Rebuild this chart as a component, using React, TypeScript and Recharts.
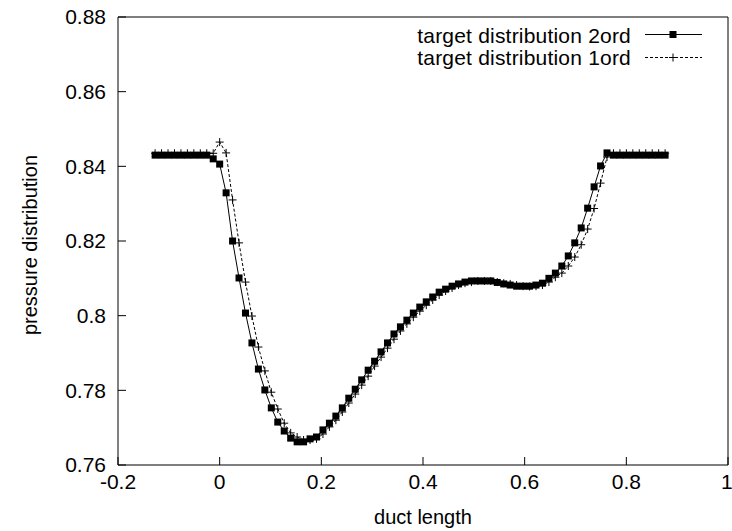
import { LineChart, Line, XAxis, YAxis, Legend } from 'recharts';

// duct positions (shared by both series)
const ductX = [
  -0.127, -0.1143, -0.1016, -0.0889, -0.0762, -0.0635, -0.0508, -0.0381, -0.0254, -0.0127,
  0, 0.0127, 0.0254, 0.0381, 0.0508, 0.0635, 0.0762, 0.0889, 0.1016, 0.1143,
  0.127, 0.1397, 0.1524, 0.1651, 0.1778, 0.1905, 0.2032, 0.2159, 0.2286, 0.2413,
  0.254, 0.2667, 0.2794, 0.2921, 0.3048, 0.3175, 0.3302, 0.3429, 0.3556, 0.3683,
  0.381, 0.3937, 0.4064, 0.4191, 0.4318, 0.4445, 0.4572, 0.4699, 0.4826, 0.4953,
  0.508, 0.5207, 0.5334, 0.5461, 0.5588, 0.5715, 0.5842, 0.5969, 0.6096, 0.6223,
  0.635, 0.6477, 0.6604, 0.6731, 0.6858, 0.6985, 0.7112, 0.7239, 0.7366, 0.7493,
  0.762, 0.7747, 0.7874, 0.8001, 0.8128, 0.8255, 0.8382, 0.8509, 0.8636, 0.8763,
];

const target2ord = [
  0.843, 0.843, 0.843, 0.843, 0.843, 0.843, 0.843, 0.843, 0.843, 0.842,
  0.8406, 0.8329, 0.82, 0.8101, 0.8007, 0.7927, 0.7857, 0.7801, 0.7753, 0.7715,
  0.7691, 0.7672, 0.7662, 0.7662, 0.767, 0.7675, 0.7694, 0.7712, 0.7731, 0.7753,
  0.7779, 0.7803, 0.7828, 0.7854, 0.7878, 0.7903, 0.7927, 0.7951, 0.797, 0.7988,
  0.8007, 0.8023, 0.8037, 0.805, 0.8063, 0.8071, 0.8079, 0.8085, 0.809, 0.8093,
  0.8093, 0.8093, 0.8093, 0.8089, 0.8085, 0.8082, 0.8079, 0.8079, 0.8079, 0.8082,
  0.8087, 0.81, 0.8114, 0.8133, 0.816, 0.8195, 0.8235, 0.8288, 0.8345, 0.8401,
  0.8436, 0.843, 0.843, 0.843, 0.843, 0.843, 0.843, 0.843, 0.843, 0.843,
];

const target1ord = [
  0.8435, 0.8435, 0.8435, 0.8435, 0.8435, 0.8435, 0.8435, 0.8435, 0.8435, 0.8435,
  0.8465, 0.8436, 0.831, 0.8195, 0.809, 0.7999, 0.7916, 0.7852, 0.7795, 0.775,
  0.7712, 0.7686, 0.7675, 0.7667, 0.7667, 0.767, 0.7683, 0.7702, 0.772, 0.7742,
  0.7766, 0.779, 0.7814, 0.7838, 0.7865, 0.7889, 0.7913, 0.7937, 0.7959, 0.7978,
  0.7996, 0.8012, 0.8028, 0.8042, 0.8055, 0.8066, 0.8074, 0.8082, 0.8087, 0.809,
  0.8093, 0.8093, 0.8093, 0.809, 0.8087, 0.8085, 0.8082, 0.8079, 0.8078, 0.8079,
  0.8082, 0.809, 0.8103, 0.8114, 0.8133, 0.8157, 0.819, 0.8232, 0.8287, 0.8355,
  0.8425, 0.8435, 0.8435, 0.8435, 0.8435, 0.8435, 0.8435, 0.8435, 0.8435, 0.8435,
];

const xTicks = [-0.2, 0, 0.2, 0.4, 0.6, 0.8, 1];
const yTicks = [0.76, 0.78, 0.8, 0.82, 0.84, 0.86, 0.88];

const data = ductX.map((x, i) => ({ x, o2: target2ord[i], o1: target1ord[i] }));

const FONT = '"Liberation Sans", Arial, Helvetica, sans-serif';

const SquareDot = (props: any) => {
  const { cx, cy, index } = props;
  return <rect key={`sq-${index}`} x={cx - 3.5} y={cy - 3.5} width={7} height={7} fill="#000" />;
};

const PlusDot = (props: any) => {
  const { cx, cy, index } = props;
  return (
    <path
      key={`pl-${index}`}
      d={`M${cx - 4},${cy}H${cx + 4}M${cx},${cy - 4}V${cy + 4}`}
      stroke="#000"
      strokeWidth={1}
      fill="none"
    />
  );
};

// gnuplot style key, top right inside the frame
const renderKey = () => (
  <svg width={732} height={80} style={{ position: 'absolute', left: 0, top: 0, overflow: 'visible' }}>
    <text x={631} y={43} textAnchor="end" fontSize={21} letterSpacing={0.2} fill="#000" fontFamily={FONT}>
      target distribution 2ord
    </text>
    <line x1={645} x2={702} y1={34.5} y2={34.5} stroke="#000" strokeWidth={1} />
    <rect x={669.5} y={31} width={7} height={7} fill="#000" />
    <text x={631} y={65} textAnchor="end" fontSize={21} letterSpacing={0.2} fill="#000" fontFamily={FONT}>
      target distribution 1ord
    </text>
    <line x1={645} x2={702} y1={57.5} y2={57.5} stroke="#000" strokeWidth={1} strokeDasharray="3 2" />
    <path d="M669,57.5H677M673,53.5V61.5" stroke="#000" strokeWidth={1} />
  </svg>
);

const YTitle = (props: any) => {
  const vb = props.viewBox || { x: 0, y: 17, height: 448 };
  const x = vb.x + 30;
  const y = vb.y + vb.height / 2 + 4;
  return (
    <text
      x={x}
      y={y}
      transform={`rotate(-90 ${x} ${y})`}
      textAnchor="middle"
      dominantBaseline="central"
      fontSize={20}
      fill="#000"
      fontFamily={FONT}
    >
      pressure distribution
    </text>
  );
};

export default function App() {
  return (
    <div style={{ position: 'absolute', left: 0, top: 0, fontFamily: FONT, background: '#fff' }}>
      <LineChart width={732} height={531} data={data} margin={{ top: 7, right: 0, bottom: 0, left: 0 }}>
        <XAxis
          dataKey="x"
          type="number"
          domain={[-0.2, 1]}
          ticks={xTicks}
          allowDataOverflow
          height={66}
          tickSize={-8}
          tickMargin={17}
          axisLine={{ stroke: '#000' }}
          tickLine={{ stroke: '#000' }}
          tick={{ fill: '#000', fontSize: 21, fontFamily: FONT }}
          label={{ value: 'duct length', position: 'insideBottom', offset: 7, fill: '#000', fontSize: 20 }}
        />
        <XAxis
          xAxisId="top"
          orientation="top"
          type="number"
          domain={[-0.2, 1]}
          ticks={xTicks}
          allowDataOverflow
          height={10}
          tickSize={-8}
          axisLine={{ stroke: '#000' }}
          tickLine={{ stroke: '#000' }}
          tick={false}
        />
        <YAxis
          type="number"
          domain={[0.76, 0.88]}
          ticks={yTicks}
          allowDataOverflow
          width={118}
          tickSize={-8}
          tickMargin={20}
          axisLine={{ stroke: '#000' }}
          tickLine={{ stroke: '#000' }}
          tick={{ fill: '#000', fontSize: 21, fontFamily: FONT }}
          label={YTitle}
        />
        <YAxis
          yAxisId="right"
          orientation="right"
          type="number"
          domain={[0.76, 0.88]}
          ticks={yTicks}
          allowDataOverflow
          width={4}
          tickSize={-8}
          axisLine={{ stroke: '#000' }}
          tickLine={{ stroke: '#000' }}
          tick={false}
        />
        <Legend
          content={renderKey}
          wrapperStyle={{ left: 0, top: 0, width: 0, height: 0, overflow: 'visible' }}
        />
        <Line
          type="linear"
          dataKey="o2"
          name="target distribution 2ord"
          stroke="#000"
          strokeWidth={1}
          dot={SquareDot}
          activeDot={false}
          isAnimationActive={false}
        />
        <Line
          type="linear"
          dataKey="o1"
          name="target distribution 1ord"
          stroke="#000"
          strokeWidth={1}
          strokeDasharray="3 2"
          dot={PlusDot}
          activeDot={false}
          isAnimationActive={false}
        />
      </LineChart>
    </div>
  );
}
